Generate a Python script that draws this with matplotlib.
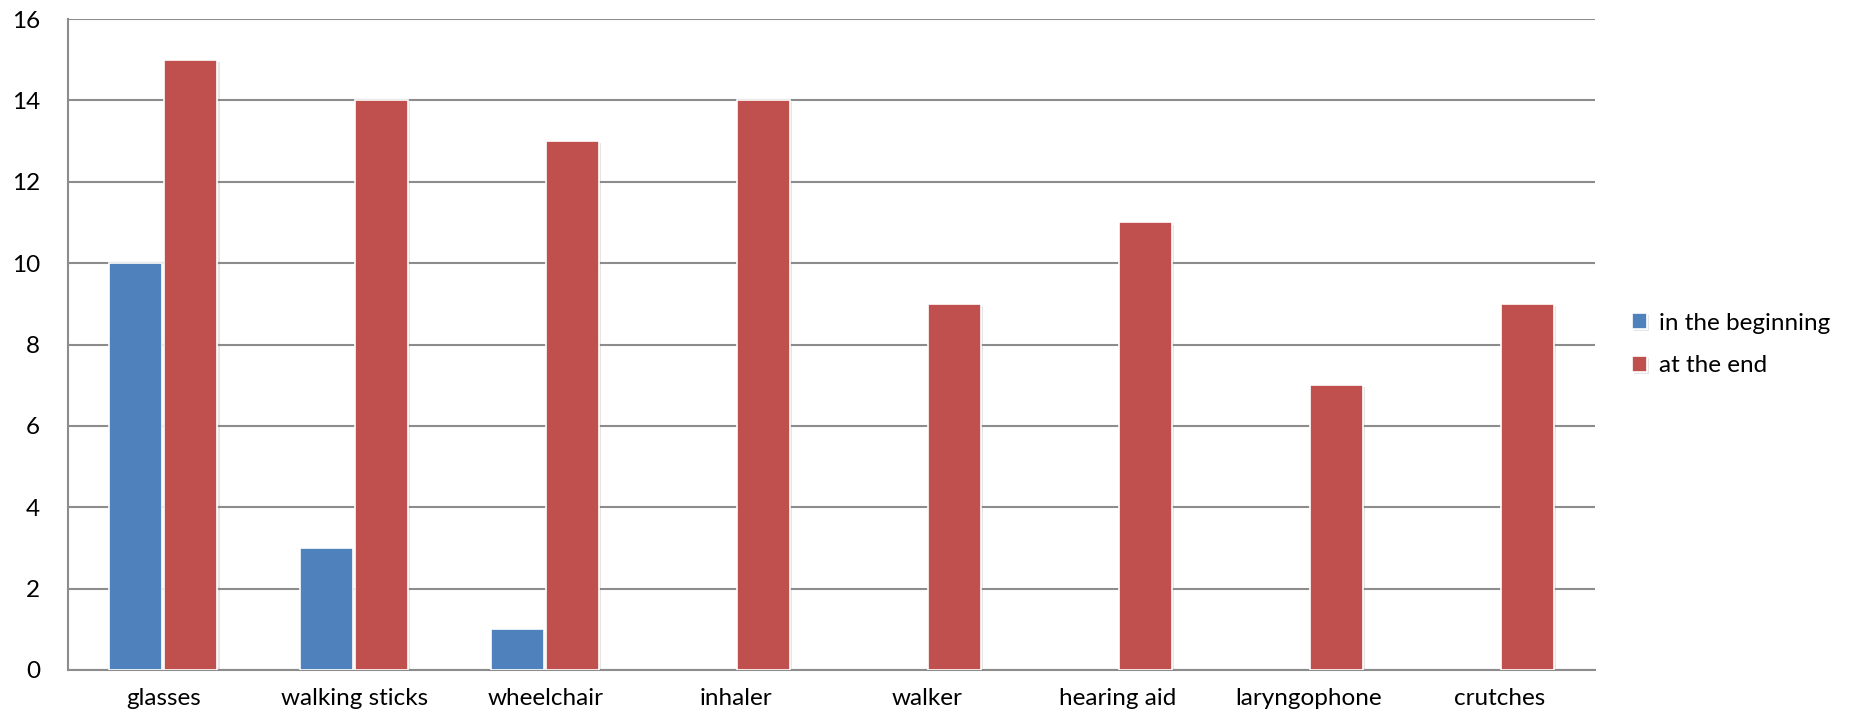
import numpy as np
import matplotlib
matplotlib.use("Agg")
import matplotlib.pyplot as plt
import matplotlib.patheffects as pe

categories = ["glasses", "walking sticks", "wheelchair", "inhaler", "walker",
              "hearing aid", "laryngophone", "crutches"]
beginning = [10, 3, 1, 0, 0, 0, 0, 0]
end = [15, 14, 13, 14, 9, 11, 7, 9]
series_labels = ["in the beginning", "at the end"]

plt.rcParams['font.family'] = ['Lato', 'DejaVu Sans']

fig = plt.figure(figsize=(18.63, 7.21), dpi=100)
ax = fig.add_axes([68 / 1863, 1 - 670 / 721, (1595 - 68) / 1863, (670 - 19) / 721])

x = np.arange(len(categories))
w = 0.278
shadow = [pe.SimplePatchShadow(offset=(1.5, -1.5), shadow_rgbFace='gray', alpha=0.2), pe.Normal()]
b1 = ax.bar(x - w / 2 - 0.005, beginning, w, color="#4F81BD", edgecolor="white",
            linewidth=1.2, label=series_labels[0], zorder=3)
b2 = ax.bar(x + w / 2 + 0.005, end, w, color="#C0504D", edgecolor="white",
            linewidth=1.2, label=series_labels[1], zorder=3)
for bars in (b1, b2):
    for p in bars:
        if p.get_height() > 0:
            p.set_path_effects(shadow)
        else:
            p.set_visible(False)

ax.set_xlim(-0.5, len(categories) - 0.5)
ax.set_ylim(0, 16)
ax.set_yticks(range(0, 17, 2))
ax.set_xticks(x)
ax.set_xticklabels(categories)
ax.tick_params(axis='both', length=0, labelsize=17.5, colors="black")
ax.tick_params(axis='y', pad=20)
ax.tick_params(axis='x', pad=13)
ax.yaxis.grid(True, color="#8C8C8C", linewidth=1.5, zorder=0)
ax.set_axisbelow(True)
for s in ("top", "right"):
    ax.spines[s].set_visible(False)
for s in ("left", "bottom"):
    ax.spines[s].set_color("#8C8C8C")
    ax.spines[s].set_linewidth(1.5)

leg = ax.legend(loc="center left", bbox_to_anchor=(1.01, 0.5), frameon=False,
                fontsize=17.5, handlelength=0.6, handleheight=0.6,
                handletextpad=0.5, labelspacing=0.9)

fig.savefig("out.png", dpi=100)
plt.close()
